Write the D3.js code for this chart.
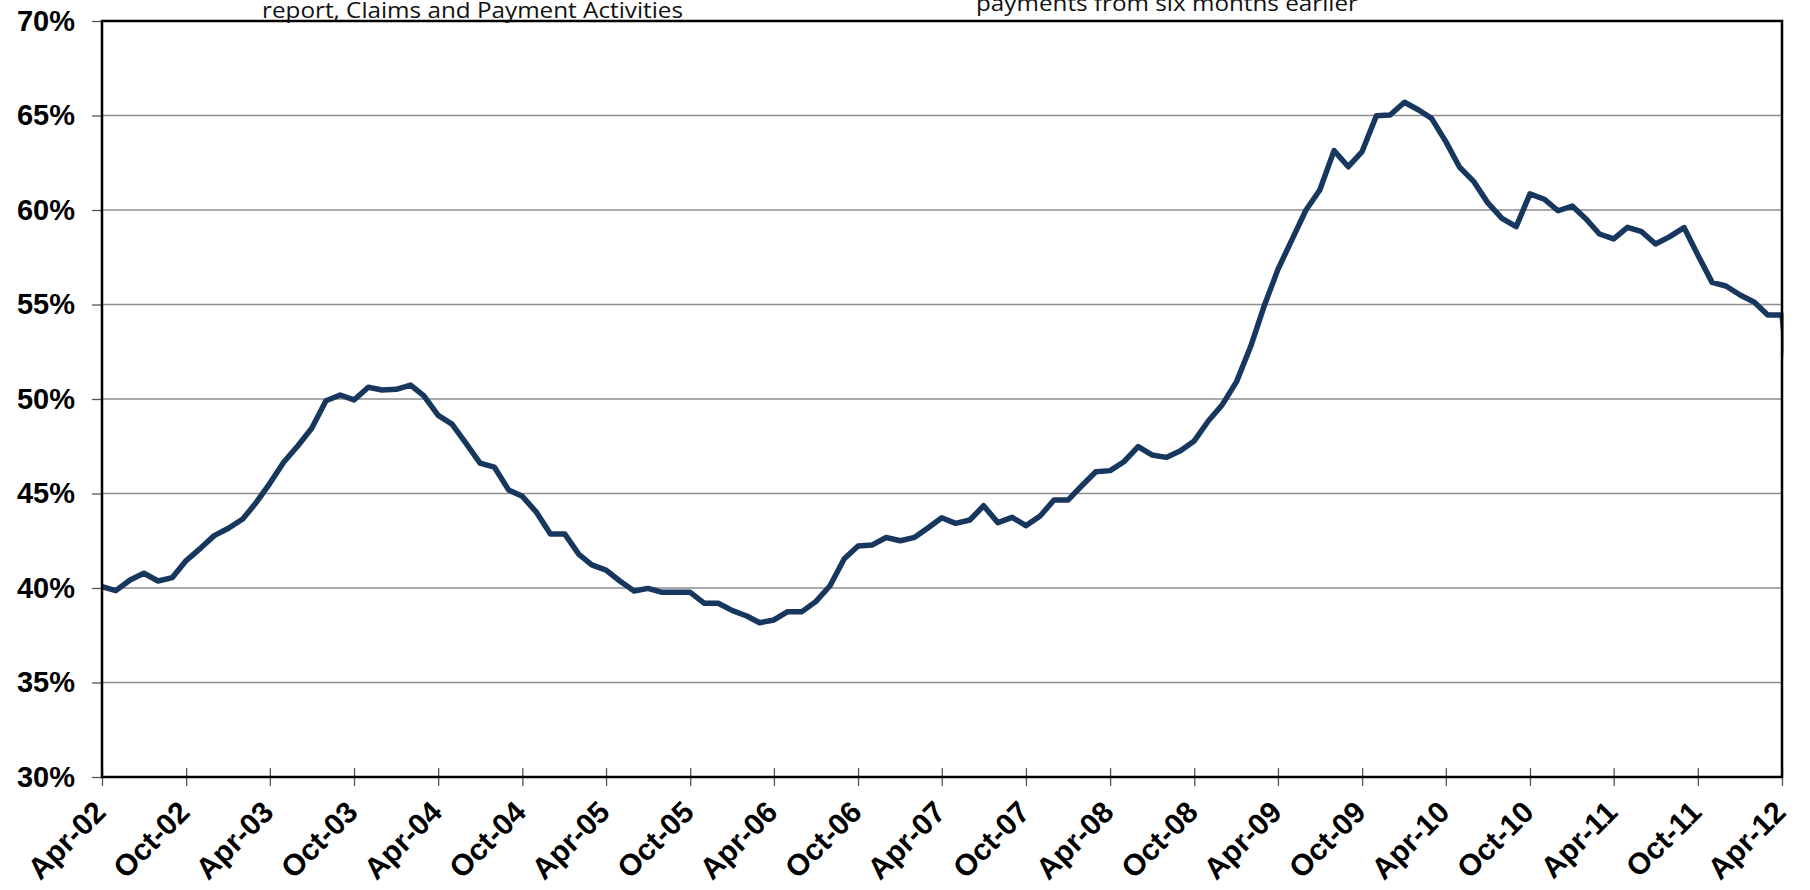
<!DOCTYPE html>
<html>
<head>
<meta charset="utf-8">
<script src="https://cdn.jsdelivr.net/npm/d3@7"></script>
<style>
  body { margin: 0; background: #fff; }
</style>
</head>
<body>
<svg id="chart" width="1810" height="890"></svg>
<script>
const startMonth = '2002-04'

const rates = [
  40.07, 39.86, 40.42, 40.78, 40.37, 40.55, 41.45, 42.10, 42.77, 43.16, 43.65, 44.48,
  45.54, 46.65, 47.53, 48.45, 49.91, 50.21, 49.95, 50.62, 50.48, 50.51, 50.74, 50.16,
  49.13, 48.67, 47.64, 46.61, 46.40, 45.19, 44.85, 44.00, 42.86, 42.86, 41.78, 41.22,
  40.95, 40.37, 39.84, 39.98, 39.77, 39.77, 39.77, 39.19, 39.19, 38.80, 38.52, 38.16,
  38.31, 38.75, 38.75, 39.28, 40.12, 41.55, 42.22, 42.28, 42.67, 42.50, 42.68, 43.16,
  43.72, 43.42, 43.60, 44.35, 43.46, 43.74, 43.30, 43.81, 44.66, 44.66, 45.45, 46.15,
  46.21, 46.68, 47.48, 47.04, 46.91, 47.26, 47.78, 48.85, 49.70, 50.92, 52.80, 54.85,
  56.86, 58.41, 60.00, 61.06, 63.14, 62.29, 63.09, 64.99, 65.03, 65.70, 65.29, 64.85,
  63.62, 62.26, 61.50, 60.39, 59.56, 59.12, 60.85, 60.57, 59.96, 60.21, 59.50, 58.73,
  58.47, 59.08, 58.85, 58.20, 58.59, 59.07, 57.62, 56.17, 55.98, 55.50, 55.12, 54.44,
  54.44, 47.50
]

const tickLabels = ['Apr-02','Oct-02','Apr-03','Oct-03','Apr-04','Oct-04','Apr-05','Oct-05',
  'Apr-06','Oct-06','Apr-07','Oct-07','Apr-08','Oct-08','Apr-09','Oct-09','Apr-10','Oct-10',
  'Apr-11','Oct-11','Apr-12']

const yTicks = [30, 35, 40, 45, 50, 55, 60, 65, 70]

const noteLeft = 'report, Claims and Payment Activities'
const noteRight = 'payments from six months earlier'

const plotLeft = 102, plotRight = 1782, plotTop = 21, plotBottom = 777
const lineColor = '#17375e'

const parseTick = d3.timeParse('%b-%y')
const start = d3.timeParse('%Y-%m')(startMonth)
const series = rates.map((v, i) => ({date: d3.timeMonth.offset(start, i), value: v}))

const svg = d3.select('#chart')

const x = d3.scaleTime()
  .domain([parseTick(tickLabels[0]), parseTick(tickLabels[tickLabels.length - 1])])
  .range([plotLeft, plotRight])

const y = d3.scaleLinear()
  .domain([30, 70])
  .range([plotBottom, plotTop])

svg.append('defs')
  .append('clipPath')
  .attr('id', 'plot')
  .append('rect')
  .attr('x', plotLeft)
  .attr('y', plotTop - 10)
  .attr('width', plotRight - plotLeft + 1.5)
  .attr('height', plotBottom - plotTop + 20)

svg.append('g')
  .selectAll('line')
  .data(yTicks.slice(1))
  .enter()
  .append('line')
  .attr('x1', plotLeft)
  .attr('x2', plotRight)
  .attr('y1', d => y(d))
  .attr('y2', d => y(d))
  .attr('stroke', '#8c8c8c')
  .attr('stroke-width', 1.4)

const yAxis = svg.append('g')
  .attr('transform', `translate(${plotLeft},0)`)
  .call(d3.axisLeft(y).tickValues(yTicks).tickSize(10).tickPadding(17).tickFormat(d => d + '%'))

yAxis.select('.domain').remove()
yAxis.selectAll('.tick line').attr('stroke', '#555').attr('stroke-width', 1.3)
yAxis.selectAll('.tick text')
  .style('font-family', '"Liberation Sans", Arial, sans-serif')
  .style('font-size', '29px')
  .style('font-weight', 'bold')
  .attr('fill', '#000')

const xAxis = svg.append('g')
  .attr('transform', `translate(0,${plotBottom})`)
  .call(d3.axisBottom(x).tickValues(tickLabels.map(parseTick)).tickFormat((d, i) => tickLabels[i]))

xAxis.select('.domain').remove()
xAxis.selectAll('.tick line')
  .attr('y1', -9)
  .attr('y2', 9)
  .attr('stroke', '#555')
  .attr('stroke-width', 1.3)
xAxis.selectAll('.tick text')
  .attr('y', 0)
  .attr('dy', 0)
  .attr('transform', 'translate(5,37) rotate(-45)')
  .style('text-anchor', 'end')
  .style('font-family', '"Liberation Sans", Arial, sans-serif')
  .style('font-size', '30px')
  .style('font-weight', 'bold')
  .attr('fill', '#000')

svg.append('path')
  .datum(series)
  .attr('clip-path', 'url(#plot)')
  .attr('fill', 'none')
  .attr('stroke', lineColor)
  .attr('stroke-width', 5.5)
  .attr('stroke-linejoin', 'round')
  .attr('d', d3.line().x(d => x(d.date)).y(d => y(d.value)))

svg.append('rect')
  .attr('x', plotLeft)
  .attr('y', plotTop)
  .attr('width', plotRight - plotLeft)
  .attr('height', plotBottom - plotTop)
  .attr('fill', 'none')
  .attr('stroke', '#000')
  .attr('stroke-width', 2.5)

svg.append('text')
  .attr('x', 262)
  .attr('y', 18)
  .attr('textLength', 421)
  .attr('lengthAdjust', 'spacingAndGlyphs')
  .style('font-family', '"Open Sans", sans-serif')
  .style('font-size', '21px')
  .attr('fill', '#111')
  .text(noteLeft)

svg.append('text')
  .attr('x', 976)
  .attr('y', 11)
  .attr('textLength', 382)
  .attr('lengthAdjust', 'spacingAndGlyphs')
  .style('font-family', '"Open Sans", sans-serif')
  .style('font-size', '21px')
  .attr('fill', '#111')
  .text(noteRight)
</script>
</body>
</html>
